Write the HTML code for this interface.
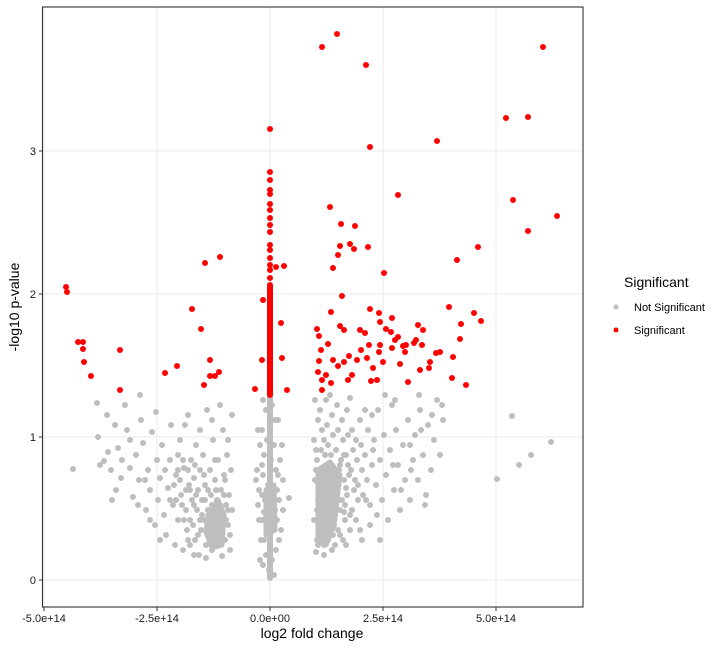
<!DOCTYPE html>
<html><head><meta charset="utf-8"><style>
body{margin:0;background:#fff;width:728px;height:648px;overflow:hidden}
text{font-family:"Liberation Sans",Arial,sans-serif}
</style></head><body>
<svg width="728" height="648" xmlns="http://www.w3.org/2000/svg">
<rect width="728" height="648" fill="#fff"/>
<g stroke="#ebebeb" stroke-width="1">
<line x1="43" x2="583" y1="580" y2="580"/><line x1="43" x2="583" y1="437" y2="437"/>
<line x1="43" x2="583" y1="294" y2="294"/><line x1="43" x2="583" y1="151" y2="151"/>
<line x1="44" x2="44" y1="7" y2="607"/><line x1="157" x2="157" y1="7" y2="607"/>
<line x1="270" x2="270" y1="7" y2="607"/><line x1="383" x2="383" y1="7" y2="607"/>
<line x1="496" x2="496" y1="7" y2="607"/>
</g>
<g fill="#bebebe" stroke="#bebebe" stroke-width="5" stroke-linejoin="round">
<path d="M318 470L330 462L340 475L337 500L334 525L326 545L318 540Z"/>
<path d="M208 515L218 500L224 515L222 545L212 548L206 532Z"/>
<path d="M266 490L274 485L275 530L266 535Z"/>
</g>
<line x1="270" x2="270" y1="395" y2="578" stroke="#bebebe" stroke-width="6" stroke-linecap="round"/>
<path fill="none" stroke="#bebebe" stroke-width="6" stroke-linecap="round" d="
M73 469h0M97 403h0M98 437h0M104 461h0M108 452h0M111 470h0M116 490h0M118 448h0M121 478h0M125 405h0M127 430h0M130 468h0M133 497h0M136 455h0M139 480h0M141 420h0M143 443h0M146 510h0M148 470h0M150 490h0M152 432h0M155 525h0M157 460h0M158 500h0M160 478h0M162 445h0M164 515h0M166 535h0M168 488h0M170 460h0M171 425h0M173 505h0M175 545h0M176 475h0M178 520h0M180 440h0M181 495h0M183 550h0M184 468h0M186 510h0M187 530h0M188 415h0M189 485h0M190 545h0M191 460h0M192 500h0M193 525h0M194 478h0M195 540h0M196 445h0M197 510h0M198 490h0M199 555h0M200 470h0M201 530h0M202 500h0M203 455h0M204 520h0M205 485h0M206 545h0M207 410h0M208 510h0M209 530h0M210 470h0M211 495h0M212 550h0M213 440h0M214 515h0M215 480h0M216 535h0M217 500h0M218 460h0M219 525h0M220 545h0M221 490h0M222 515h0M223 430h0M224 475h0M225 540h0M226 505h0M227 455h0M228 525h0M229 495h0M230 550h0M231 470h0M232 510h0M220 405h0M212 420h0M200 430h0M185 425h0M170 500h0M160 540h0M150 520h0M145 480h0M138 505h0M130 440h0M122 460h0M112 500h0M100 465h0M107 415h0M115 425h0M140 395h0M156 412h0M165 470h0M178 455h0M195 465h0M205 500h0M215 460h0M225 480h0M190 520h0M182 505h0M174 485h0M198 535h0M210 540h0M188 470h0M228 440h0M232 415h0M202 515h0M208 490h0M214 530h0M220 505h0M226 520h0M196 495h0M186 490h0M230 535h0M218 545h0M204 475h0M180 480h0M176 500h0M184 520h0M188 540h0M194 555h0M206 558h0M222 556h0M190 490h0M178 470h0M183 460h0M200 520h0M212 505h0M224 495h0M216 490h0M206 530h0M228 510h0M194 505h0
M263 400h0M266 410h0M272 405h0M275 420h0M262 430h0M267 440h0M274 445h0M264 455h0M271 460h0M276 470h0M263 475h0M268 485h0M273 490h0M265 500h0M270 505h0M275 510h0M262 520h0M267 525h0M273 530h0M264 540h0M270 545h0M276 550h0M266 555h0M272 560h0M263 565h0M269 570h0M274 575h0M258 430h0M257 470h0M280 460h0M279 500h0M259 520h0M281 530h0M260 560h0M278 420h0M256 480h0M258 505h0M283 480h0M289 498h0M282 445h0M260 445h0M259 490h0M261 540h0M279 540h0M283 510h0M278 475h0M262 465h0M262 495h0M277 490h0M264 512h0M277 520h0
M315 400h0M318 420h0M314 440h0M317 460h0M315 480h0M318 500h0M314 520h0M317 540h0M320 410h0M322 430h0M321 450h0M323 470h0M320 490h0M322 510h0M321 530h0M324 545h0M326 400h0M327 425h0M328 445h0M326 465h0M329 485h0M327 505h0M330 525h0M328 540h0M332 415h0M333 435h0M331 455h0M334 475h0M332 495h0M335 515h0M333 535h0M337 405h0M338 430h0M336 450h0M339 470h0M337 490h0M340 510h0M338 530h0M342 420h0M343 440h0M341 460h0M344 480h0M342 500h0M345 520h0M343 540h0M347 410h0M348 435h0M346 455h0M349 475h0M347 495h0M350 515h0M352 430h0M353 450h0M351 470h0M354 490h0M352 510h0M356 440h0M357 460h0M355 480h0M358 500h0M360 420h0M361 445h0M362 470h0M363 495h0M365 455h0M367 480h0M368 430h0M370 505h0M372 465h0M374 440h0M376 485h0M378 410h0M380 460h0M382 500h0M384 435h0M386 475h0M388 520h0M390 450h0M392 405h0M394 490h0M396 430h0M398 465h0M400 510h0M403 445h0M405 480h0M408 420h0M410 500h0M413 460h0M415 435h0M418 480h0M420 410h0M423 455h0M426 495h0M428 425h0M431 470h0M434 440h0M437 400h0M440 455h0M443 420h0M380 540h0M360 530h0M370 525h0M395 400h0M372 415h0M410 445h0M365 410h0M385 395h0M330 395h0M350 398h0M419 395h0M425 505h0M316 470h0M319 530h0M325 455h0M330 505h0M335 545h0M340 465h0M345 505h0M317 510h0M323 495h0M329 470h0M334 525h0M339 500h0M344 455h0M318 545h0M326 535h0M356 520h0M358 485h0M362 540h0M366 500h0M346 545h0M373 450h0M377 515h0M393 465h0M401 490h0M411 470h0M421 430h0M432 415h0M442 405h0M316 450h0M324 440h0M348 465h0M346 488h0M344 512h0M340 535h0M324 555h0M316 552h0M332 550h0M350 530h0M497 479h0M519 465h0M531 455h0M551 442h0M512 416h0"/>
<path fill="none" stroke="#f00" stroke-width="6" stroke-linecap="round" d="
M270 285V395M270 129h0M270 172h0M270 180h0M270 190h0M270 194h0M270 204h0M270 210h0M270 218h0M270 225h0M270 232h0M270 245h0M270 250h0M270 258h0M270 265h0M270 270h0M270 278h0
M66 287h0M67 292h0M78 342h0M83 342h0M83 349h0M84 362h0M91 376h0M120 350h0M120 390h0M165 373h0M177 366h0M192 309h0M201 329h0M205 263h0M204 385h0M210 360h0M210 376h0M215 376h0M220 257h0M219 372h0M255 389h0M263 300h0M262 360h0M276 267h0M284 266h0M281 323h0M282 358h0M287 390h0
M322 47h0M337 34h0M366 65h0M370 147h0M330 207h0M341 224h0M340 246h0M338 255h0M333 268h0M355 226h0M350 244h0M354 249h0M368 247h0M370 309h0M379 313h0M384 273h0M392 318h0M398 195h0M379 352h0M383 362h0M377 380h0M437 141h0M457 260h0M478 247h0M506 118h0M528 117h0M513 200h0M543 47h0M528 231h0M557 216h0M317 329h0M319 336h0M321 350h0M318 372h0M322 380h0M331 312h0M328 344h0M340 326h0M342 296h0M344 330h0M349 356h0M352 375h0M360 330h0M357 360h0M367 358h0M373 368h0M371 381h0M380 322h0M398 337h0M403 346h0M406 345h0M414 343h0M416 340h0M408 382h0M423 330h0M429 368h0M436 353h0M440 352h0M449 307h0M453 357h0M452 378h0M461 324h0M466 385h0M474 313h0M481 321h0M460 339h0M365 333h0M361 350h0M369 345h0M333 360h0M338 366h0M344 362h0M348 380h0M319 361h0M326 375h0M331 383h0M322 390h0M400 364h0M405 352h0M418 325h0M392 348h0M395 340h0M422 345h0M420 370h0M430 362h0M380 345h0M386 329h0M391 332h0"/>
<rect x="42.5" y="7" width="540.5" height="600" fill="none" stroke="#333" stroke-width="1.1"/>
<g stroke="#333"><line x1="39" x2="42.5" y1="580" y2="580"/><line x1="39" x2="42.5" y1="437" y2="437"/><line x1="39" x2="42.5" y1="294" y2="294"/><line x1="39" x2="42.5" y1="151" y2="151"/>
<line x1="44" x2="44" y1="607" y2="611"/><line x1="157" x2="157" y1="607" y2="611"/><line x1="270" x2="270" y1="607" y2="611"/><line x1="383" x2="383" y1="607" y2="611"/><line x1="496" x2="496" y1="607" y2="611"/></g>
<g font-size="11" fill="#1a1a1a" text-anchor="end"><text x="36" y="584">0</text><text x="36" y="441">1</text><text x="36" y="298">2</text><text x="36" y="155">3</text></g>
<g font-size="11" fill="#1a1a1a" text-anchor="middle"><text x="44" y="622">-5.0e+14</text><text x="157" y="622">-2.5e+14</text><text x="270" y="622">0.0e+00</text><text x="383" y="622">2.5e+14</text><text x="496" y="622">5.0e+14</text></g>
<text x="312" y="638" font-size="14" text-anchor="middle">log2 fold change</text>
<text transform="translate(19,307) rotate(-90)" font-size="14" text-anchor="middle">-log10 p-value</text>
<text x="624" y="287" font-size="14">Significant</text>
<circle cx="616" cy="307" r="2.5" fill="#bebebe"/><circle cx="616" cy="330" r="2.5" fill="#f00"/>
<text x="634" y="311" font-size="11">Not Significant</text><text x="634" y="334" font-size="11">Significant</text>
</svg>
</body></html>
